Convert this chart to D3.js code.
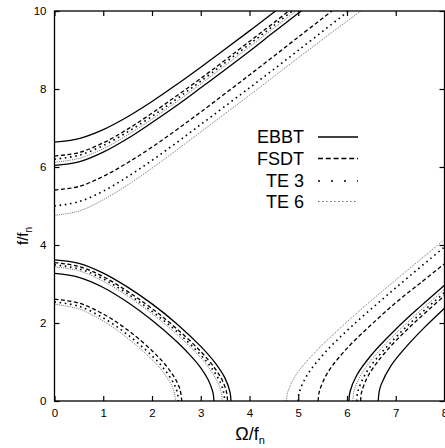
<!DOCTYPE html>
<html>
<head>
<meta charset="utf-8">
<script src="https://cdn.jsdelivr.net/npm/d3@7"></script>
<style>
  body { margin: 0; background: #fff; }
  svg { display: block; font-family: "Liberation Sans", Arial, Helvetica, sans-serif; }
  .frame { fill: none; stroke: #000; stroke-width: 1.3; }
  .tick line { stroke: #000; stroke-width: 1.2; }
  .tick text { font-size: 11.5px; fill: #000; }
</style>
</head>
<body>
<svg id="chart" width="445" height="448"></svg>
<script>
// tick values
const omegaTicks = [0, 1, 2, 3, 4, 5, 6, 7, 8];
const fTicks = [0, 2, 4, 6, 8, 10];
const theories = ["EBBT", "FSDT", "TE 3", "TE 6"];

// [Omega/fn, f/fn]; per theory: 2 modes x (upper, lower, right branch)
const ebbtCurves = [
  [[0,6.64],[0.5,6.73],[1,6.96],[1.5,7.29],[2,7.68],[2.5,8.11],[3,8.56],[4,9.49],[4.5,9.97],[5,10.45]],
  [[0,3.62],[0.5,3.53],[1,3.28],[1.5,2.92],[2,2.49],[2.5,1.99],[3,1.40],[3.3,0.97],[3.5,0.58],[3.6,0.23],[3.62,0]],
  [[6.64,0],[6.66,0.24],[6.7,0.42],[6.9,0.90],[7.2,1.37],[7.6,1.90],[8,2.38]],
  [[0,6.04],[0.5,6.13],[1,6.38],[1.5,6.73],[2,7.14],[2.5,7.57],[3,8.03],[4,8.97],[4.5,9.46],[5,9.94],[5.2,10.14]],
  [[0,3.27],[0.5,3.17],[1,2.91],[1.5,2.53],[2,2.07],[2.5,1.53],[2.8,1.15],[3,0.85],[3.15,0.55],[3.25,0.22],[3.27,0]],
  [[6.04,0],[6.06,0.23],[6.2,0.66],[6.5,1.18],[7,1.84],[7.5,2.42],[8,2.97]]
];
const fsdtCurves = [
  [[0,6.28],[0.5,6.37],[1,6.62],[1.5,6.97],[2,7.38],[2.5,7.82],[3,8.27],[4,9.22],[4.5,9.70],[5,10.19]],
  [[0,3.55],[0.5,3.45],[1,3.19],[1.5,2.81],[2,2.37],[2.5,1.86],[3,1.27],[3.3,0.82],[3.45,0.51],[3.53,0.22],[3.55,0]],
  [[6.28,0],[6.3,0.23],[6.45,0.68],[6.8,1.27],[7.3,1.91],[8,2.70]],
  [[0,5.41],[0.5,5.50],[1,5.76],[1.5,6.11],[2,6.51],[2.5,6.95],[3,7.41],[4,8.36],[5,9.33],[5.7,10.01]],
  [[0,2.61],[0.5,2.51],[1,2.23],[1.5,1.82],[2,1.29],[2.3,0.89],[2.5,0.52],[2.58,0.27],[2.61,0]],
  [[5.41,0],[5.43,0.23],[5.6,0.72],[6,1.35],[6.5,1.96],[7,2.52],[7.5,3.02],[8,3.52]]
];
const te3Curves = [
  [[0,6.20],[0.5,6.30],[1,6.55],[1.5,6.90],[2,7.30],[2.5,7.74],[3,8.20],[4,9.15],[4.5,9.63],[5,10.12]],
  [[0,3.49],[0.5,3.39],[1,3.13],[1.5,2.75],[2,2.30],[2.5,1.79],[3,1.18],[3.25,0.80],[3.4,0.48],[3.47,0.22],[3.49,0]],
  [[6.20,0],[6.22,0.23],[6.4,0.74],[6.8,1.37],[7.3,2.00],[8,2.78]],
  [[0,5.00],[0.5,5.11],[1,5.38],[1.5,5.75],[2,6.17],[2.5,6.62],[3,7.09],[4,8.03],[5,8.99],[6,9.97],[6.1,10.07]],
  [[0,2.54],[0.5,2.43],[1,2.13],[1.5,1.70],[2,1.16],[2.25,0.82],[2.45,0.44],[2.52,0.21],[2.54,0]],
  [[5.00,0],[5.02,0.22],[5.2,0.70],[5.6,1.31],[6.1,1.92],[6.7,2.58],[7.3,3.22],[8,3.95]]
];
const te6Curves = [
  [[0,6.12],[0.5,6.22],[1,6.47],[1.5,6.82],[2,7.23],[2.5,7.67],[3,8.13],[4,9.08],[4.5,9.56],[5,10.05]],
  [[0,3.44],[0.5,3.34],[1,3.07],[1.5,2.69],[2,2.24],[2.5,1.72],[3,1.11],[3.2,0.79],[3.35,0.47],[3.42,0.22],[3.44,0]],
  [[6.12,0],[6.14,0.23],[6.3,0.70],[6.7,1.34],[7.2,1.97],[8,2.86]],
  [[0,4.76],[0.5,4.87],[1,5.16],[1.5,5.54],[2,5.97],[2.5,6.43],[3,6.90],[4,7.84],[5,8.80],[6,9.74],[6.4,10.1]],
  [[0,2.48],[0.5,2.36],[1,2.05],[1.5,1.61],[2,1.06],[2.2,0.79],[2.4,0.41],[2.46,0.20],[2.48,0]],
  [[4.76,0],[4.78,0.21],[4.95,0.66],[5.3,1.19],[5.8,1.80],[6.4,2.47],[7.2,3.31],[8,4.14]]
];

const styles = {
  "EBBT": {stroke: "#000", width: 1.3, dash: null, legendDash: null},
  "FSDT": {stroke: "#000", width: 1.3, dash: "4,2.5", legendDash: "5,2.8"},
  "TE 3": {stroke: "#000", width: 1.6, dash: "1.6,3.6", legendDash: "2,11"},
  "TE 6": {stroke: "#555", width: 0.9, dash: "1,1.2", legendDash: "1.5,2.5"}
};

const svg = d3.select("#chart");
const mLeft = 54.5, mRight = 444.5, mTop = 11, mBottom = 401;

const x = d3.scaleLinear().domain([0, 8]).range([mLeft, mRight]);
const y = d3.scaleLinear().domain([0, 10]).range([mBottom, mTop]);

svg.append("defs").append("clipPath").attr("id", "plotclip")
  .append("rect")
  .attr("x", mLeft).attr("y", mTop)
  .attr("width", mRight - mLeft).attr("height", mBottom - mTop);

const line = d3.line()
  .x(d => x(d[0]))
  .y(d => y(d[1]))
  .curve(d3.curveCatmullRom.alpha(0.5));

const plot = svg.append("g").attr("clip-path", "url(#plotclip)");
const groups = [ebbtCurves, fsdtCurves, te3Curves, te6Curves];

// draw TE 6 first so the solid lines sit on top
for (let i = groups.length - 1; i >= 0; i--) {
  const st = styles[theories[i]];
  plot.selectAll(null)
    .data(groups[i])
    .enter().append("path")
    .attr("d", line)
    .attr("fill", "none")
    .attr("stroke", st.stroke)
    .attr("stroke-width", st.width)
    .attr("stroke-dasharray", st.dash);
}

// axes, ticks pointing inward on all four sides
svg.append("g")
  .attr("transform", "translate(0," + mBottom + ")")
  .call(d3.axisBottom(x).tickValues(omegaTicks).tickSizeInner(-5).tickSizeOuter(0).tickPadding(8));
svg.append("g")
  .attr("transform", "translate(0," + mTop + ")")
  .call(d3.axisTop(x).tickValues(omegaTicks).tickSizeInner(-5).tickSizeOuter(0).tickFormat(""));
svg.append("g")
  .attr("transform", "translate(" + mLeft + ",0)")
  .call(d3.axisLeft(y).tickValues(fTicks).tickSizeInner(-5).tickSizeOuter(0).tickPadding(8));
svg.append("g")
  .attr("transform", "translate(" + mRight + ",0)")
  .call(d3.axisRight(y).tickValues(fTicks).tickSizeInner(-5).tickSizeOuter(0).tickFormat(""));
svg.selectAll(".domain").remove();

svg.append("rect")
  .attr("class", "frame")
  .attr("x", mLeft).attr("y", mTop)
  .attr("width", mRight - mLeft).attr("height", mBottom - mTop);

// axis titles
const xt = svg.append("text")
  .attr("x", 250).attr("y", 440)
  .attr("text-anchor", "middle")
  .attr("font-size", 18);
xt.append("tspan").text("Ω/f");
xt.append("tspan").attr("font-size", 11).attr("dy", 4).text("n");

const yt = svg.append("text")
  .attr("transform", "translate(28,236) rotate(-90)")
  .attr("text-anchor", "middle")
  .attr("font-size", 15);
yt.append("tspan").text("f/f");
yt.append("tspan").attr("font-size", 10).attr("dy", 4).text("n");

// legend
const legend = svg.append("g");
const rowY = [137, 158.5, 181, 201.5];
theories.forEach((name, i) => {
  const st = styles[name];
  legend.append("text")
    .attr("x", 304).attr("y", rowY[i] + 6)
    .attr("text-anchor", "end")
    .attr("font-size", 18)
    .text(name);
  legend.append("line")
    .attr("x1", 318).attr("x2", 358)
    .attr("y1", rowY[i]).attr("y2", rowY[i])
    .attr("stroke", st.stroke)
    .attr("stroke-width", st.width)
    .attr("stroke-dasharray", st.legendDash);
});
</script>
</body>
</html>
